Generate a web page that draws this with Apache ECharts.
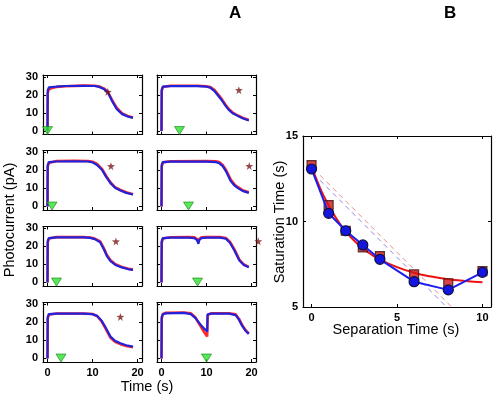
<!DOCTYPE html>
<html>
<head>
<meta charset="utf-8">
<script src="https://cdn.jsdelivr.net/npm/echarts@6/dist/echarts.min.js"></script>
<style>
html,body{margin:0;padding:0;background:#fff;}
#c{width:496px;height:400px;}
</style>
</head>
<body>
<div id="c"></div>
<script>
// ---------- Panel A data ----------
const separations = [0, 1, 2, 3, 4, 6, 8, 10];
const xTicksA = [0, 10, 20];
const yTicksA = [0, 10, 20, 30];

const traceBlue0 = [[0,0],[0.05,22.5],[0.3,24.2],[2,24.5],[4,24.9],[8,25],[10.5,24.9],[11.5,24.4],[12.5,23.3],[13.4,21.4],[14.3,16.8],[15.4,12.1],[16.6,9.3],[17.8,8],[19,7.2]];
const traceRed0  = [[0,0],[0.05,21],[0.3,23],[1,23.8],[2,24.4],[4,24.8],[8,25.1],[10.5,25],[11.5,24.6],[12.5,23.6],[13.4,21.7],[14.3,17.3],[15.4,12.7],[16.6,9.7],[17.8,8.3],[19,7.4]];
const traceBlue1 = [[0,0],[0.05,23],[0.3,24.5],[2,24.9],[6,25],[9,24.9],[10,24.4],[11,23],[12.1,20.3],[13,16.5],[14,12.9],[15,10.3],[16.2,8.8],[17.5,7.5],[19,6.6]];
const traceRed1  = [[0,0],[0.05,22],[0.3,24],[2,25.2],[6,25.3],[9,25.2],[10,24.8],[11,23.5],[12.1,20.8],[13,17],[14,13.3],[15,10.7],[16.2,9.1],[17.5,7.8],[19,6.8]];
const traceBlue2 = [[0,0],[0.05,23],[0.3,24.6],[2,25],[8,25],[9.5,24.7],[10.5,24],[11.7,22.3],[12.5,18.5],[13.2,14.6],[14,11.8],[15.1,9.7],[16.5,8.3],[18,7.3],[19,6.9]];
const traceRed2  = [[0,0],[0.05,22],[0.3,24.3],[2,25.1],[8,25.1],[9.5,24.9],[10.5,24.3],[11.7,22.7],[12.5,19],[13.2,15.2],[14,12.3],[15.1,10.1],[16.5,8.6],[18,7.5],[19,7.1]];
const traceBlue3 = [[0,0],[0.05,23],[0.3,24.5],[2,24.8],[8,24.8],[10,24.5],[11,23.6],[12,21],[12.8,17.7],[14,12.1],[15,9.8],[16.2,8.4],[17.5,7.3],[19,6.5]];
const traceRed3  = [[0,0],[0.05,22],[0.3,24.2],[2,24.9],[8,24.9],[10,24.6],[11,23.5],[12,20.6],[12.8,17],[14,11.4],[15,9.2],[16.2,7.9],[17.5,6.9],[19,6.2]];
const traceBlue4 = [[0,0],[0.05,23],[0.3,24.5],[2,24.8],[8,24.8],[10,24.5],[10.8,24],[11.8,22],[12.6,19.5],[13.4,17],[14.2,14],[14.9,11.8],[15.8,9.8],[16.7,8.6],[18,7],[19.4,5.8]];
const traceRed4  = [[0,0],[0.05,22],[0.3,24.3],[2,25],[8,25],[10,24.8],[10.8,24.4],[11.8,22.6],[12.6,20.2],[13.4,17.6],[14.2,14.6],[14.9,12.3],[15.8,10.2],[16.7,8.9],[18,7.3],[19.4,6]];
const traceBlue5 = [[0,0],[0.05,23],[0.3,24.5],[2,24.8],[10,24.8],[12,24.6],[12.8,24],[13.6,22.3],[14.3,19.6],[15.4,14],[16.2,11.6],[16.9,10.3],[18,8.6],[19.4,7.5]];
const traceRed5  = [[0,0],[0.05,22],[0.3,24.4],[2,25],[10,25.1],[12,25],[12.8,24.6],[13.6,23],[14.3,20.4],[15.4,14.8],[16.2,12.2],[16.9,10.8],[18,9],[19.4,7.8]];
const traceBlue6 = [[0,0],[0.05,23],[0.3,24.5],[2,24.8],[6,24.8],[7.3,24.6],[7.9,23.5],[8.2,21.4],[8.4,23.5],[8.9,24.6],[10,24.8],[13,24.8],[14.3,24.2],[15.2,22],[16.2,17.7],[17.3,12.1],[18.3,9.6],[19.4,8.4]];
const traceRed6  = [[0,0],[0.05,22],[0.3,24.3],[2,25],[6,25.1],[7.3,25],[7.9,24],[8.2,22.3],[8.4,24],[8.9,25],[10,25.1],[13,25.1],[14.3,24.6],[15.2,22.6],[16.2,18.3],[17.3,12.6],[18.3,9.9],[19.4,8.6]];
const traceBlue7 = [[0,0],[0.05,23],[0.3,24.5],[1,25],[5,25.2],[6.5,24.6],[7.5,22.5],[8.7,18.7],[9.5,16.5],[10.15,14.9],[10.25,24.5],[11,24.8],[15,24.8],[16.5,24],[17.2,21.5],[18,17.7],[18.7,15.2],[19.4,13.6]];
const traceRed7  = [[0,0],[0.05,22],[0.3,24.6],[1,25.3],[5,25.4],[6.5,25],[7.5,22.8],[8.7,17.8],[9.5,14.5],[10.15,12.1],[10.25,24],[11,25],[15,25],[16.5,24.4],[17.2,22],[18,18.2],[18.7,15.6],[19.4,13.8]];

const bluePanels = [traceBlue0, traceBlue1, traceBlue2, traceBlue3, traceBlue4, traceBlue5, traceBlue6, traceBlue7];
const redPanels  = [traceRed0, traceRed1, traceRed2, traceRed3, traceRed4, traceRed5, traceRed6, traceRed7];
const starX = [13.4, 14.1, 15.2, 16.2, 17.2, 19.5, 21.5, null];
const starY = [21.6, 22.3, 22.7, 23.0, 22.6, 22.4, 22.8, null];

// ---------- Panel B data ----------
const xTicksB = [0, 5, 10];
const sepTimes = [0, 1, 2, 3, 4, 6, 8, 10];
const satRed  = [13.3, 10.96, 9.46, 8.49, 7.98, 6.91, 6.39, 7.1];
const satBlue = [13.07, 10.48, 9.46, 8.63, 7.79, 6.48, 6.0, 7.03];
const fitX = [0, 0.5, 1, 1.5, 2, 2.5, 3, 3.5, 4, 5, 6, 7, 8, 9, 10];
const fitY = [13.25, 11.95, 10.95, 10.1, 9.42, 8.87, 8.43, 8.07, 7.78, 7.33, 7.0, 6.78, 6.62, 6.52, 6.45];
const dashRedX = [0.5, 8.2];
const dashRedY = [12.7, 5.0];
const dashBlueX = [0.5, 7.9];
const dashBlueY = [12.4, 5.0];

const FONT = '"Liberation Sans", Arial, sans-serif';
const chart = echarts.init(document.getElementById('c'), null, {renderer: 'canvas'});

const grids = [], xAxes = [], yAxes = [], series = [];
const starPath = 'path://M50,0 L61.8,36.2 L100,38.2 L69.1,61.8 L80.9,100 L50,76.4 L19.1,100 L30.9,61.8 L0,38.2 L38.2,36.2 Z';

function boxAxes(gi, xmin, xmax, ymin, ymax, xt, yt, showX, showY) {
  const line = {show: true, lineStyle: {color: '#000', width: 1.2}, onZero: false};
  const tickX = {show: true, inside: true, length: 3, customValues: xt, lineStyle: {color: '#000', width: 1}};
  const tickY = {show: true, inside: true, length: 3, customValues: yt, lineStyle: {color: '#000', width: 1}};
  const lab = {fontFamily: FONT, fontWeight: 'bold', fontSize: 11, color: '#000'};
  xAxes.push({gridIndex: gi, type: 'value', min: xmin, max: xmax, position: 'bottom', axisLine: line, axisTick: tickX, splitLine: {show: false},
    axisLabel: Object.assign({show: showX, customValues: xt, margin: 5}, lab)});
  xAxes.push({gridIndex: gi, type: 'value', min: xmin, max: xmax, position: 'top', axisLine: line, axisTick: tickX, splitLine: {show: false}, axisLabel: {show: false}});
  yAxes.push({gridIndex: gi, type: 'value', min: ymin, max: ymax, position: 'left', axisLine: line, axisTick: tickY, splitLine: {show: false},
    axisLabel: Object.assign({show: showY, customValues: yt, margin: 5}, lab)});
  yAxes.push({gridIndex: gi, type: 'value', min: ymin, max: ymax, position: 'right', axisLine: line, axisTick: tickY, splitLine: {show: false}, axisLabel: {show: false}});
}

const rowTops = [75, 150.5, 226.5, 302.5];
for (let i = 0; i < 8; i++) {
  const col = i < 4 ? 0 : 1;
  const row = i % 4;
  grids.push({left: col ? 157 : 43, top: rowTops[row], width: 99, height: 59.5});
  boxAxes(i, -1, 21, -2, 31, xTicksA, yTicksA, row === 3, col === 0);
  const xa = 2 * i, ya = 2 * i;
  series.push({type: 'line', xAxisIndex: xa, yAxisIndex: ya, data: redPanels[i], showSymbol: false, silent: true,
    lineStyle: {color: '#ff2a2a', width: 2.6}, z: 2});
  series.push({type: 'line', xAxisIndex: xa, yAxisIndex: ya, data: bluePanels[i], showSymbol: false, silent: true,
    lineStyle: {color: '#2222dd', width: 2.2}, z: 3});
  series.push({type: 'scatter', xAxisIndex: xa, yAxisIndex: ya, data: [[separations[i], 0.2]], symbol: 'triangle', symbolRotate: 180,
    symbolSize: [10, 8], itemStyle: {color: '#30e030', borderColor: '#118811', borderWidth: 0.8}, z: 4, clip: false});
  if (starX[i] !== null) {
    series.push({type: 'scatter', xAxisIndex: xa, yAxisIndex: ya, data: [[starX[i], starY[i]]], symbol: starPath,
      symbolSize: 8, itemStyle: {color: '#7a1a1a'}, z: 5, clip: false});
  }
}

// Panel B
grids.push({left: 303, top: 136, width: 188, height: 171});
boxAxes(8, -0.5, 10.5, 5, 15, xTicksB, [5, 10, 15], true, true);
const bx = 16, by = 16;
series.push({type: 'line', xAxisIndex: bx, yAxisIndex: by, data: dashRedX.map((x, k) => [x, dashRedY[k]]), showSymbol: false,
  lineStyle: {color: '#e88a8a', width: 1, type: [5, 4]}, z: 1});
series.push({type: 'line', xAxisIndex: bx, yAxisIndex: by, data: dashBlueX.map((x, k) => [x, dashBlueY[k]]), showSymbol: false,
  lineStyle: {color: '#8a8ae0', width: 1, type: [5, 4]}, z: 1});
series.push({type: 'line', xAxisIndex: bx, yAxisIndex: by, data: fitX.map((x, k) => [x, fitY[k]]), showSymbol: false, smooth: true,
  lineStyle: {color: '#ee1111', width: 2}, z: 2});
series.push({type: 'scatter', xAxisIndex: bx, yAxisIndex: by, data: sepTimes.map((x, k) => [x, satRed[k]]), symbol: 'rect', symbolSize: 9,
  itemStyle: {color: '#d01818', borderColor: '#3a1212', borderWidth: 1.2}, z: 3, clip: false});
series.push({type: 'line', xAxisIndex: bx, yAxisIndex: by, data: sepTimes.map((x, k) => [x, satBlue[k]]), symbol: 'circle', symbolSize: 10,
  showAllSymbol: true, lineStyle: {color: '#1e1ef0', width: 2}, itemStyle: {color: '#1515e0', borderColor: '#101040', borderWidth: 1.2}, z: 4, clip: false});

const option = {
  animation: false,
  backgroundColor: '#fff',
  grid: grids,
  xAxis: xAxes,
  yAxis: yAxes,
  series: series,
  graphic: [
    {type: 'text', left: 229, top: 5, style: {text: 'A', font: 'bold 17px ' + FONT, fill: '#000'}},
    {type: 'text', left: 444, top: 5, style: {text: 'B', font: 'bold 17px ' + FONT, fill: '#000'}},
    {type: 'text', x: 10, y: 220, rotation: Math.PI / 2, style: {text: 'Photocurrent (pA)', font: '14.5px ' + FONT, fill: '#000', align: 'center', verticalAlign: 'middle'}},
    {type: 'text', x: 147, y: 387, style: {text: 'Time (s)', font: '14.5px ' + FONT, fill: '#000', align: 'center', verticalAlign: 'middle'}},
    {type: 'text', x: 280, y: 222, rotation: Math.PI / 2, style: {text: 'Saturation Time (s)', font: '14.5px ' + FONT, fill: '#000', align: 'center', verticalAlign: 'middle'}},
    {type: 'text', x: 396, y: 330, style: {text: 'Separation Time (s)', font: '14.5px ' + FONT, fill: '#000', align: 'center', verticalAlign: 'middle'}}
  ]
};
chart.setOption(option);
</script>
</body>
</html>
